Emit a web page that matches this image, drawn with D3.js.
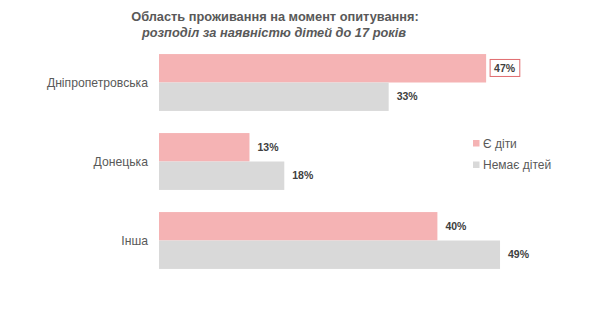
<!DOCTYPE html>
<html>
<head>
<meta charset="utf-8">
<script src="https://cdn.jsdelivr.net/npm/d3@7/dist/d3.min.js"></script>
<style>
  html, body { margin: 0; padding: 0; background: #fff; }
  svg { display: block; font-family: "Liberation Sans", Arial, sans-serif; }
</style>
</head>
<body>
<svg id="chart" width="602" height="322"></svg>
<script>
// Regions and share of respondents (%) by whether they have children up to 17
const regions = ["Дніпропетровська", "Донецька", "Інша"];
const withKids = [47, 13, 40];
const noKids = [33, 18, 49];
const seriesNames = ["Є діти", "Немає дітей"];
const seriesColors = ["#f5b3b4", "#d9d9d9"];
const highlighted = { region: "Дніпропетровська", series: 0 };

const svg = d3.select("#chart");

// Title
const title = svg.append("text")
  .attr("text-anchor", "middle")
  .attr("fill", "#595959")
  .attr("font-weight", "bold")
  .attr("font-size", 12.8);
title.append("tspan").attr("x", 275).attr("y", 21).text("Область проживання на момент опитування:");
title.append("tspan").attr("x", 274).attr("y", 37).attr("font-style", "italic").text("розподіл за наявністю дітей до 17 років");

const y = d3.scaleBand()
  .domain(regions)
  .range([43, 280])
  .paddingInner(0.28)
  .paddingOuter(0.14);

const sub = d3.scaleBand()
  .domain([0, 1])
  .range([0, y.bandwidth()]);

const x = d3.scaleLinear().domain([0, 50]).range([159, 507]);

const rows = regions.map((r, i) => ({ region: r, values: [withKids[i], noKids[i]] }));

const groups = svg.selectAll("g.region")
  .data(rows)
  .join("g")
  .attr("class", "region")
  .attr("transform", d => `translate(0,${y(d.region)})`);

// Category labels
groups.append("text")
  .attr("x", 148)
  .attr("y", y.bandwidth() / 2)
  .attr("dy", "0.35em")
  .attr("text-anchor", "end")
  .attr("fill", "#595959")
  .attr("font-size", 12.2)
  .text(d => d.region);

const cells = groups.selectAll("g.bar")
  .data(d => d.values.map((v, s) => ({ region: d.region, s, v })))
  .join("g")
  .attr("class", "bar");

cells.append("rect")
  .attr("x", x(0))
  .attr("y", d => sub(d.s))
  .attr("width", d => x(d.v) - x(0))
  .attr("height", sub.bandwidth())
  .attr("fill", d => seriesColors[d.s]);

const labels = cells.append("text")
  .attr("x", d => x(d.v) + 8)
  .attr("y", d => sub(d.s) + sub.bandwidth() / 2)
  .attr("dy", "0.35em")
  .attr("fill", "#404040")
  .attr("font-weight", "bold")
  .attr("font-size", 10.5)
  .text(d => d.v + "%");

// Outline around the highlighted value
labels.filter(d => d.region === highlighted.region && d.s === highlighted.series)
  .each(function () {
    const b = this.getBBox();
    d3.select(this.parentNode).insert("rect", "text")
      .attr("x", b.x - 4)
      .attr("y", b.y - 2.5)
      .attr("width", b.width + 8)
      .attr("height", b.height + 5)
      .attr("fill", "#fff")
      .attr("stroke", "#e06b6e")
      .attr("stroke-width", 1);
  });

// Legend
const legend = svg.selectAll("g.legend")
  .data(seriesNames)
  .join("g")
  .attr("class", "legend")
  .attr("transform", (d, i) => `translate(473,${140 + i * 21.5})`);

legend.append("rect")
  .attr("width", 6.5)
  .attr("height", 6.5)
  .attr("fill", (d, i) => seriesColors[i]);

legend.append("text")
  .attr("x", 10)
  .attr("y", 3.3)
  .attr("dy", "0.35em")
  .attr("fill", "#595959")
  .attr("font-size", 12)
  .text(d => d);
</script>
</body>
</html>
